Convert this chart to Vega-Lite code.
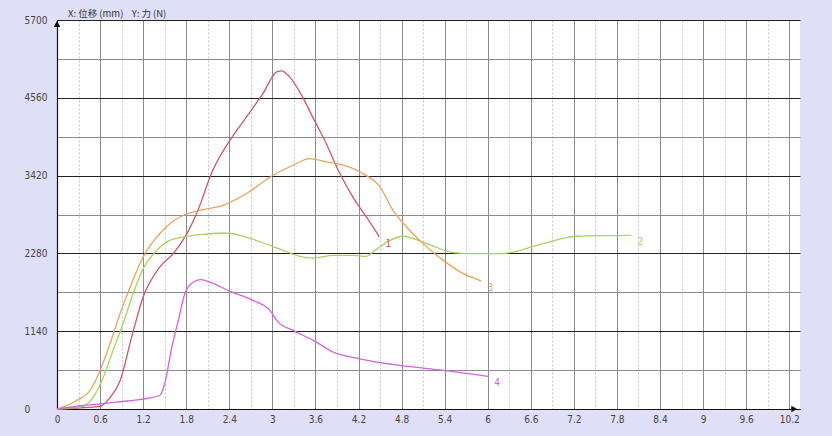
{
  "$schema": "https://vega.github.io/schema/vega-lite/v6.json",
  "width": 743,
  "height": 389,
  "autosize": {"type": "none"},
  "padding": {"left": 57, "top": 20, "right": 32, "bottom": 27},
  "background": "#dfdff7",
  "config": {
    "view": {"fill": "white", "stroke": null}
  },
  "title": {
    "text": "X: 位移 (mm)\u00a0\u00a0\u00a0\u00a0Y: 力 (N)",
    "anchor": "start",
    "frame": "group",
    "dx": 11,
    "dy": 3,
    "offset": 0,
    "font": "Noto Sans CJK SC",
    "fontSize": 9.5,
    "fontWeight": "normal",
    "color": "#333333"
  },
  "datasets": {
    "curves": [
      {"series": "1", "x": 0, "y": 0},
      {"series": "1", "x": 0.29, "y": 15},
      {"series": "1", "x": 0.6, "y": 37},
      {"series": "1", "x": 0.74, "y": 169},
      {"series": "1", "x": 0.88, "y": 418},
      {"series": "1", "x": 1.04, "y": 1053},
      {"series": "1", "x": 1.2, "y": 1640},
      {"series": "1", "x": 1.43, "y": 2080},
      {"series": "1", "x": 1.62, "y": 2277},
      {"series": "1", "x": 1.81, "y": 2570},
      {"series": "1", "x": 1.945, "y": 2864},
      {"series": "1", "x": 2.17, "y": 3499},
      {"series": "1", "x": 2.41, "y": 3939},
      {"series": "1", "x": 2.64, "y": 4281},
      {"series": "1", "x": 2.87, "y": 4624},
      {"series": "1", "x": 3.06, "y": 4941},
      {"series": "1", "x": 3.13, "y": 4956},
      {"series": "1", "x": 3.24, "y": 4867},
      {"series": "1", "x": 3.42, "y": 4574},
      {"series": "1", "x": 3.56, "y": 4281},
      {"series": "1", "x": 3.75, "y": 3890},
      {"series": "1", "x": 3.94, "y": 3450},
      {"series": "1", "x": 4.12, "y": 3107},
      {"series": "1", "x": 4.31, "y": 2814},
      {"series": "1", "x": 4.49, "y": 2523},

      {"series": "2", "x": 0, "y": 0},
      {"series": "2", "x": 0.32, "y": 26},
      {"series": "2", "x": 0.505, "y": 173},
      {"series": "2", "x": 0.645, "y": 466},
      {"series": "2", "x": 0.78, "y": 858},
      {"series": "2", "x": 0.92, "y": 1250},
      {"series": "2", "x": 1.06, "y": 1690},
      {"series": "2", "x": 1.2, "y": 2057},
      {"series": "2", "x": 1.39, "y": 2325},
      {"series": "2", "x": 1.57, "y": 2472},
      {"series": "2", "x": 1.76, "y": 2520},
      {"series": "2", "x": 1.99, "y": 2555},
      {"series": "2", "x": 2.315, "y": 2579},
      {"series": "2", "x": 2.55, "y": 2545},
      {"series": "2", "x": 2.83, "y": 2447},
      {"series": "2", "x": 3.15, "y": 2325},
      {"series": "2", "x": 3.38, "y": 2237},
      {"series": "2", "x": 3.57, "y": 2212},
      {"series": "2", "x": 3.85, "y": 2252},
      {"series": "2", "x": 4.125, "y": 2252},
      {"series": "2", "x": 4.31, "y": 2237},
      {"series": "2", "x": 4.43, "y": 2325},
      {"series": "2", "x": 4.64, "y": 2472},
      {"series": "2", "x": 4.82, "y": 2531},
      {"series": "2", "x": 5.15, "y": 2423},
      {"series": "2", "x": 5.52, "y": 2291},
      {"series": "2", "x": 5.75, "y": 2277},
      {"series": "2", "x": 6.21, "y": 2277},
      {"series": "2", "x": 6.31, "y": 2291},
      {"series": "2", "x": 6.77, "y": 2423},
      {"series": "2", "x": 7.235, "y": 2531},
      {"series": "2", "x": 7.7, "y": 2541},
      {"series": "2", "x": 8.0, "y": 2545},

      {"series": "3", "x": 0, "y": 0},
      {"series": "3", "x": 0.275, "y": 125},
      {"series": "3", "x": 0.46, "y": 271},
      {"series": "3", "x": 0.6, "y": 565},
      {"series": "3", "x": 0.74, "y": 961},
      {"series": "3", "x": 0.88, "y": 1401},
      {"series": "3", "x": 1.04, "y": 1841},
      {"series": "3", "x": 1.2, "y": 2227},
      {"series": "3", "x": 1.39, "y": 2520},
      {"series": "3", "x": 1.57, "y": 2716},
      {"series": "3", "x": 1.76, "y": 2839},
      {"series": "3", "x": 1.99, "y": 2912},
      {"series": "3", "x": 2.315, "y": 2985},
      {"series": "3", "x": 2.64, "y": 3157},
      {"series": "3", "x": 3.01, "y": 3425},
      {"series": "3", "x": 3.29, "y": 3572},
      {"series": "3", "x": 3.52, "y": 3670},
      {"series": "3", "x": 3.755, "y": 3621},
      {"series": "3", "x": 3.99, "y": 3572},
      {"series": "3", "x": 4.26, "y": 3450},
      {"series": "3", "x": 4.5, "y": 3254},
      {"series": "3", "x": 4.68, "y": 2912},
      {"series": "3", "x": 4.87, "y": 2667},
      {"series": "3", "x": 5.1, "y": 2423},
      {"series": "3", "x": 5.38, "y": 2178},
      {"series": "3", "x": 5.66, "y": 1983},
      {"series": "3", "x": 5.91, "y": 1878},

      {"series": "4", "x": 0, "y": 0},
      {"series": "4", "x": 0.37, "y": 51},
      {"series": "4", "x": 0.83, "y": 100},
      {"series": "4", "x": 1.295, "y": 164},
      {"series": "4", "x": 1.43, "y": 198},
      {"series": "4", "x": 1.5, "y": 370},
      {"series": "4", "x": 1.6, "y": 907},
      {"series": "4", "x": 1.69, "y": 1298},
      {"series": "4", "x": 1.78, "y": 1690},
      {"series": "4", "x": 1.9, "y": 1860},
      {"series": "4", "x": 2.01, "y": 1895},
      {"series": "4", "x": 2.13, "y": 1860},
      {"series": "4", "x": 2.41, "y": 1724},
      {"series": "4", "x": 2.73, "y": 1592},
      {"series": "4", "x": 2.965, "y": 1445},
      {"series": "4", "x": 3.08, "y": 1273},
      {"series": "4", "x": 3.29, "y": 1152},
      {"series": "4", "x": 3.57, "y": 1005},
      {"series": "4", "x": 3.85, "y": 833},
      {"series": "4", "x": 4.22, "y": 736},
      {"series": "4", "x": 4.775, "y": 638},
      {"series": "4", "x": 5.38, "y": 565},
      {"series": "4", "x": 6.005, "y": 477}
    ],
    "yArrow": [{"x": 0, "y": 5700}],
    "xArrow": [{"x": 10.2, "y": 0}]
  },
  "encoding": {
    "x": {
      "field": "x",
      "type": "quantitative",
      "scale": {"domain": [0, 10.35], "nice": false, "zero": false},
      "axis": {
        "title": null,
        "values": [0, 0.3, 0.6, 0.9, 1.2, 1.5, 1.8, 2.1, 2.4, 2.7, 3, 3.3, 3.6, 3.9, 4.2, 4.5, 4.8, 5.1, 5.4, 5.7, 6, 6.3, 6.6, 6.9, 7.2, 7.5, 7.8, 8.1, 8.4, 8.7, 9, 9.3, 9.6, 9.9, 10.2],
        "labelExpr": "round(datum.value * 10 / 3) % 2 === 0 ? '' + datum.value : ''",
        "grid": true,
        "gridColor": {"condition": {"test": "round(datum.value * 10 / 3) % 2 === 0", "value": "#8c8c8c"}, "value": "#c4c4c4"},
        "gridDash": {"condition": {"test": "round(datum.value * 10 / 3) % 2 === 0", "value": []}, "value": [2, 2]},
        "gridWidth": 1,
        "ticks": false,
        "tickSize": 0,
        "domain": true,
        "domainColor": "#111111",
        "domainWidth": 1.2,
        "labelPadding": 5,
        "labelFont": "Liberation Sans Narrow, DejaVu Sans Condensed, Liberation Sans",
        "labelFontSize": 10,
        "labelColor": "#444444",
        "labelFlush": false,
        "labelOverlap": false
      }
    },
    "y": {
      "field": "y",
      "type": "quantitative",
      "scale": {"domain": [0, 5700], "nice": false, "zero": false},
      "axis": {
        "title": null,
        "values": [0, 570, 1140, 1710, 2280, 2850, 3420, 3990, 4560, 5130, 5700],
        "labelExpr": "datum.value % 1140 === 0 ? '' + datum.value : ''",
        "grid": true,
        "gridColor": {"condition": {"test": "datum.value % 1140 === 0", "value": "#222222"}, "value": "#8c8c8c"},
        "gridWidth": 1,
        "ticks": false,
        "tickSize": 0,
        "domain": true,
        "domainColor": "#111111",
        "domainWidth": 1.2,
        "labelAlign": "left",
        "labelBaseline": "middle",
        "labelPadding": 33,
        "labelFont": "Liberation Sans Narrow, DejaVu Sans Condensed, Liberation Sans",
        "labelFontSize": 10,
        "labelColor": "#444444",
        "labelFlush": false,
        "labelOverlap": false
      }
    }
  },
  "layer": [
    {
      "data": {"name": "curves"},
      "mark": {"type": "line", "interpolate": "monotone", "strokeWidth": 1.3},
      "encoding": {
        "color": {
          "field": "series",
          "type": "nominal",
          "scale": {"domain": ["1", "2", "3", "4"], "range": ["#c45a6c", "#a6d45a", "#e6a45a", "#d462dc"]},
          "legend": null
        },
        "strokeWidth": {
          "field": "series",
          "type": "nominal",
          "scale": {"domain": ["1", "2", "3", "4"], "range": [1.2, 1.6, 1.3, 1.6]},
          "legend": null
        }
      }
    },
    {
      "data": {"name": "curves"},
      "transform": [
        {"joinaggregate": [{"op": "max", "field": "x", "as": "xmax"}], "groupby": ["series"]},
        {"filter": "datum.x === datum.xmax"}
      ],
      "mark": {"type": "text", "dx": 9, "dy": 7, "fontSize": 10, "font": "Liberation Sans Narrow, DejaVu Sans Condensed, Liberation Sans"},
      "encoding": {
        "text": {"field": "series"},
        "color": {
          "field": "series",
          "type": "nominal",
          "scale": {"domain": ["1", "2", "3", "4"], "range": ["#c45a6c", "#a6d45a", "#e6a45a", "#d462dc"]},
          "legend": null
        }
      }
    },
    {
      "data": {"name": "yArrow"},
      "mark": {"type": "point", "shape": "triangle-up", "filled": true, "color": "#111111", "size": 45, "opacity": 1, "yOffset": 4, "clip": false},
      "encoding": {}
    },
    {
      "data": {"name": "xArrow"},
      "mark": {"type": "point", "shape": "triangle-right", "filled": true, "color": "#111111", "size": 45, "opacity": 1, "xOffset": 5, "clip": false},
      "encoding": {}
    }
  ]
}
